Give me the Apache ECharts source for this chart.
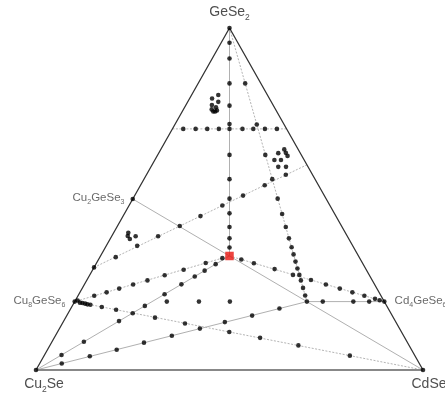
<!DOCTYPE html>
<html>
<head>
<meta charset="utf-8">
<script src="https://cdn.jsdelivr.net/npm/echarts@6/dist/echarts.min.js"></script>
<style>
  html, body { margin: 0; padding: 0; background: #fff; }
  #chart { width: 445px; height: 395px; }
</style>
</head>
<body>
<div id="chart"></div>
<script>
// Compositions are mol % of [Cu2Se, CdSe, GeSe2].

// Corner phases and binary compounds on the edges
const compoundNames = ['GeSe2', 'Cu2Se', 'CdSe', 'Cu2GeSe3', 'Cu8GeSe6', 'Cd4GeSe6'];
const compoundComps = [[0, 0, 100], [100, 0, 0], [0, 100, 0], [50, 0, 50], [80, 0, 20], [0, 80, 20]];

// Quaternary phase Cu2CdGeSe4
const quaternaryComp = [33.33, 33.33, 33.34];

// Join points of the sections
const junctionComps = [[20, 60, 20], [70, 0, 30]];

// GeSe2 – Cu2CdGeSe4 section
const medianSection = [
  [2.15, 2.15, 95.7], [4.45, 4.45, 91.1], [8.1, 8.1, 83.8], [11.35, 11.35, 77.3],
  [14.05, 14.05, 71.9], [18.55, 18.55, 62.9], [22.1, 22.1, 55.8], [24.95, 24.95, 50.1],
  [27.1, 27.1, 45.8], [29.1, 29.1, 41.8], [30.75, 30.75, 38.5], [32.1, 32.1, 35.8]
];

// Isoplethal section at 70.5 mol % GeSe2
const isoplethGe = [
  [26.7, 2.8, 70.5], [23.5, 6.0, 70.5], [20.5, 9.0, 70.5], [17.5, 12.0, 70.5],
  [14.75, 14.75, 70.5], [11.4, 18.1, 70.5], [8.6, 20.9, 70.5], [5.6, 23.9, 70.5], [2.5, 27.0, 70.5]
];

// GeSe2 – (Cu2Se:CdSe = 1:3) section
const section13 = [
  [4.05, 12.15, 83.8], [7.05, 21.15, 71.8], [9.3, 27.8, 62.9], [11.05, 33.15, 55.8],
  [12.5, 37.4, 50.1], [13.6, 40.8, 45.6], [14.55, 43.65, 41.8], [15.4, 46.1, 38.5],
  [16.0, 48.1, 35.9], [16.55, 49.65, 33.8], [17.1, 51.2, 31.7], [17.6, 52.7, 29.7],
  [18.05, 54.15, 27.8], [18.45, 55.35, 26.2], [19.0, 57.0, 24.0], [19.55, 58.65, 21.8]
];

// Cu2CdGeSe4 – Cd4GeSe6 section
const quatToCd4 = [
  [30.8, 36.9, 32.3], [28.1, 40.7, 31.2], [23.6, 46.9, 29.5], [19.7, 52.5, 27.8],
  [15.8, 57.9, 26.3], [12.6, 62.4, 25.0], [9.6, 66.6, 23.8], [6.9, 70.4, 22.7],
  [4.3, 74.0, 21.7], [2.0, 77.2, 20.8], [1.0, 78.6, 20.4]
];

// Cu2CdGeSe4 – Cu8GeSe6 section
const quatToCu8 = [
  [35.5, 31.8, 32.7], [40.5, 28.2, 31.3], [47.2, 23.5, 29.3], [52.9, 19.4, 27.7],
  [58.1, 15.7, 26.2], [62.4, 12.6, 25.0], [66.6, 9.6, 23.8], [70.4, 6.9, 22.7],
  [74.1, 4.2, 21.7], [79.1, 0.6, 20.3]
];

// Cu2Se – Cu2CdGeSe4 section
const cu2seToQuat = [
  [38.1, 30.95, 30.95], [41.9, 29.05, 29.05], [45.3, 27.35, 27.35], [49.9, 25.05, 25.05],
  [55.7, 22.15, 22.15], [62.5, 18.75, 18.75], [71.4, 14.3, 14.3], [83.5, 8.25, 8.25], [91.2, 4.4, 4.4]
];

// Cu8GeSe6 – CdSe section
const cu8ToCdse = [
  [78.8, 1.5, 19.7], [78.2, 2.2, 19.6], [77.6, 3.0, 19.4], [77.1, 3.7, 19.2], [76.4, 4.5, 19.1],
  [73.8, 7.8, 18.4], [70.5, 11.9, 17.6], [66.7, 16.7, 16.6], [61.6, 23.1, 15.3], [54.7, 31.7, 13.6],
  [44.5, 44.4, 11.1], [37.4, 53.2, 9.4], [28.6, 64.2, 7.2], [16.8, 79.0, 4.2]
];

// Cu2Se – (20:60:20) section
const cu2seToJunction = [
  [92.4, 5.7, 1.9], [84.1, 11.9, 4.0], [76.2, 17.9, 5.9], [68.1, 23.9, 8.0], [59.9, 30.1, 10.0],
  [51.6, 36.3, 12.1], [44.2, 41.8, 14.0], [36.2, 47.9, 15.9], [28.1, 53.9, 18.0]
];

// Isoplethal section at 20 mol % GeSe2
const isopleth20 = [
  [15.9, 64.1, 20], [8.0, 72.0, 20], [3.9, 76.1, 20],
  [56.2, 23.8, 20], [47.9, 32.1, 20], [39.9, 40.1, 20]
];

// (70:0:30) – (0:40:60) section
const upperSection = [
  [62.9, 4.1, 33.0], [55.7, 8.0, 36.3], [48.9, 12.0, 39.1], [41.8, 16.1, 42.1], [35.0, 20.0, 45.0],
  [27.8, 24.1, 48.1], [21.0, 28.0, 51.0], [13.9, 32.1, 54.0], [6.9, 36.0, 57.1]
];

// Separate sample groups
const groupA = [
  [14.8, 5.8, 79.4], [12.7, 6.9, 80.4], [13.7, 7.9, 78.4], [15.8, 6.7, 77.5], [15.1, 8.1, 76.8],
  [16.5, 7.3, 76.2], [15.3, 8.8, 75.9], [16.4, 8.0, 75.6], [15.9, 8.5, 75.6]
];
const groupB = [
  [3.6, 31.9, 64.5], [3.7, 32.8, 63.5], [3.7, 33.7, 62.6], [5.7, 30.9, 63.4],
  [7.7, 30.9, 61.4], [6.0, 32.6, 61.4], [7.7, 32.9, 59.4], [5.7, 34.9, 59.4]
];
const groupC = [[56.1, 3.8, 40.1], [56.7, 4.1, 39.2], [56.6, 5.1, 38.3], [54.7, 6.2, 39.1]];

// Joins drawn as plain lines
const solidJoins = [
  [[0, 0, 100], [33.33, 33.33, 33.34]],
  [[50, 0, 50], [0, 100, 0]],
  [[20, 60, 20], [0, 80, 20]],
  [[100, 0, 0], [33.33, 33.33, 33.34]],
  [[100, 0, 0], [20, 60, 20]]
];
// Joins drawn as dotted lines
const dottedJoins = [
  [[29.5, 0, 70.5], [0, 29.5, 70.5]],
  [[0, 0, 100], [20, 60, 20]],
  [[33.33, 33.33, 33.34], [0, 80, 20]],
  [[33.33, 33.33, 33.34], [80, 0, 20]],
  [[80, 0, 20], [0, 100, 0]],
  [[70, 0, 30], [0, 40, 60]]
];

// Ternary composition -> plane coordinates (base along x, GeSe2 up along y)
function toXY(p) {
  const s = p[0] + p[1] + p[2];
  return [(p[1] + p[2] / 2) / s, p[2] / s];
}

// Chemical formula -> rich text with subscripted digits
function formula(name) {
  return name.split(/(\d+)/).filter(Boolean)
    .map(t => /^\d+$/.test(t) ? '{s|' + t + '}' : '{n|' + t + '}').join('');
}

const richLarge = {
  n: { fontSize: 14, color: '#222', fontFamily: 'Liberation Sans', verticalAlign: 'bottom', padding: [0, 0, 3, 0] },
  s: { fontSize: 8.5, color: '#222', fontFamily: 'Liberation Sans', verticalAlign: 'bottom' }
};
const richSmall = {
  n: { fontSize: 11.5, color: '#444', fontFamily: 'Liberation Sans', verticalAlign: 'bottom', padding: [0, 0, 2, 0] },
  s: { fontSize: 7, color: '#444', fontFamily: 'Liberation Sans', verticalAlign: 'bottom' }
};
const labelPlacement = {
  GeSe2:    { position: 'top', distance: 4, rich: richLarge },
  Cu2Se:    { position: 'bottom', distance: 5, offset: [8, 0], rich: richLarge },
  CdSe:     { position: 'bottom', distance: 5, offset: [6, 0], rich: richLarge },
  Cu2GeSe3: { position: 'left', distance: 6, rich: richSmall },
  Cu8GeSe6: { position: 'left', distance: 7, rich: richSmall },
  Cd4GeSe6: { position: 'right', distance: 8, rich: richSmall }
};

const series = [];

// Triangle frame
series.push({
  type: 'line', data: [toXY([100, 0, 0]), toXY([0, 0, 100]), toXY([0, 100, 0])],
  symbol: 'none', clip: false, silent: true,
  lineStyle: { color: '#333', width: 1.3 }, z: 3
});
series.push({
  type: 'line', data: [toXY([100, 0, 0]), toXY([0, 100, 0])],
  symbol: 'none', clip: false, silent: true,
  lineStyle: { color: '#888', width: 2 }, z: 3
});

solidJoins.forEach(j => series.push({
  type: 'line', data: j.map(toXY), symbol: 'none', clip: false, silent: true,
  lineStyle: { color: '#b0b0b0', width: 1 }, z: 2
}));
dottedJoins.forEach(j => series.push({
  type: 'line', data: j.map(toXY), symbol: 'none', clip: false, silent: true,
  lineStyle: { color: '#b4b4b4', width: 1, type: [2, 1.5] }, z: 2
}));

const samplePoints = [].concat(
  junctionComps, medianSection, isoplethGe, section13, quatToCd4, quatToCu8,
  cu2seToQuat, cu8ToCdse, cu2seToJunction, isopleth20, upperSection, groupA, groupB, groupC
);
series.push({
  type: 'scatter', data: samplePoints.map(toXY), symbol: 'circle', symbolSize: 4.6,
  clip: false, itemStyle: { color: '#000' }, z: 5
});

series.push({
  type: 'scatter',
  data: compoundNames.map((n, i) => ({
    value: toXY(compoundComps[i]), name: n,
    label: Object.assign({ show: true, formatter: formula(n) }, labelPlacement[n])
  })),
  symbol: 'circle', symbolSize: 4.6, clip: false, itemStyle: { color: '#000' }, z: 6
});

series.push({
  type: 'scatter', data: [toXY(quaternaryComp)], symbol: 'rect', symbolSize: 8.5,
  clip: false, itemStyle: { color: '#e8150f' }, z: 7
});

const chart = echarts.init(document.getElementById('chart'), null, { renderer: 'canvas' });
chart.setOption({
  animation: false,
  backgroundColor: '#fff',
  grid: { left: 36, top: 28, width: 387, height: 342 },
  xAxis: { type: 'value', min: 0, max: 1, show: false },
  yAxis: { type: 'value', min: 0, max: 1, show: false },
  series: series
});
</script>
</body>
</html>
